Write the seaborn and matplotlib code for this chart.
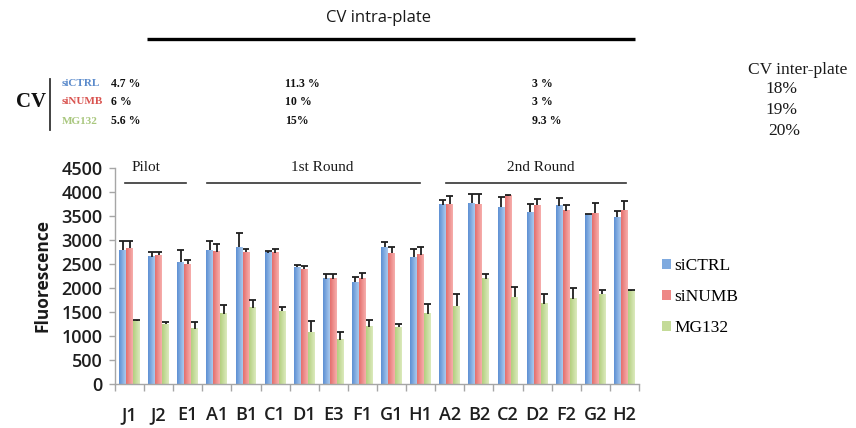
import numpy as np
import pandas as pd
import matplotlib
matplotlib.use("Agg")
import matplotlib.pyplot as plt
from matplotlib.lines import Line2D
from matplotlib.patches import Patch
from matplotlib.colors import LinearSegmentedColormap
import seaborn as sns

# ---- data -------------------------------------------------------------
wells = ["J1", "J2", "E1", "A1", "B1", "C1", "D1", "E3", "F1", "G1",
         "H1", "A2", "B2", "C2", "D2", "F2", "G2", "H2"]
conditions = ["siCTRL", "siNUMB", "MG132"]

sictrl = [2790, 2650, 2535, 2790, 2845, 2730, 2430, 2190, 2120, 2845,
          2640, 3735, 3770, 3685, 3575, 3715, 3540, 3470]
sictrl_err = [195, 110, 255, 180, 295, 45, 55, 100, 115, 105,
              170, 95, 185, 205, 175, 165, 10, 125]
sinumb = [2833, 2680, 2500, 2755, 2740, 2730, 2395, 2190, 2190, 2720,
          2690, 3750, 3745, 3920, 3725, 3610, 3555, 3625]
sinumb_err = [137, 80, 85, 160, 70, 80, 55, 100, 120, 140,
              155, 170, 205, 25, 125, 125, 225, 195]
mg132 = [1320, 1250, 1150, 1460, 1585, 1515, 1080, 925, 1195, 1180,
         1460, 1620, 2190, 1805, 1670, 1775, 1875, 1945]
mg132_err = [15, 40, 140, 185, 165, 85, 225, 155, 145, 70,
             210, 255, 100, 225, 205, 235, 85, 10]

rounds = ["Pilot", "1st Round", "2nd Round"]

# intra-plate CV per round (rows: conditions)
cv_intra = [["4.7 %", "11.3 %", "3 %"],
            ["6 %", "10 %", "3 %"],
            ["5.6 %", "15%", "9.3 %"]]
cv_inter = ["18%", "19%", "20%"]

yticks = [0, 500, 1000, 1500, 2000, 2500, 3000, 3500, 4000, 4500]

# ---- styling ----------------------------------------------------------
mid_colors = ["#7FAADF", "#EE8886", "#C4DB98"]
grad_colors = [("#5C8FD3", "#ABCAEE"), ("#E46E6C", "#F7B0AE"), ("#B3CE7E", "#DCEBBE")]
label_colors = ["#5A8ACB", "#D9534F", "#A9C77E"]
serif = ["Liberation Serif", "DejaVu Serif"]
sans = ["Open Sans", "DejaVu Sans"]

W, H = 856, 428
fig = plt.figure(figsize=(W / 100, H / 100), dpi=100)
fig.patch.set_facecolor("white")

ax_l, ax_r, ax_t, ax_b = 115, 639, 168, 384
ax = fig.add_axes([ax_l / W, 1 - ax_b / H, (ax_r - ax_l) / W, (ax_b - ax_t) / H])

df = pd.DataFrame({
    "well": wells * 3,
    "cond": sum([[c] * len(wells) for c in conditions], []),
    "fluor": sictrl + sinumb + mg132,
    "err": sictrl_err + sinumb_err + mg132_err,
})

sns.barplot(data=df, x="well", y="fluor", hue="cond", order=wells,
            hue_order=conditions, palette=mid_colors, width=0.72,
            errorbar=None, legend=False, ax=ax, linewidth=0, zorder=2)

# horizontal gradient fill on every bar, plus upper-only error bars
cap_half = 0.12
bar_containers = list(ax.containers)
for container, (c0, c1), cond in zip(bar_containers, grad_colors, conditions):
    cmap = LinearSegmentedColormap.from_list(cond, [c0, c1])
    errs = df.loc[df["cond"] == cond, "err"].to_numpy()
    xs, hs = [], []
    for bar in container:
        x0, w, h = bar.get_x(), bar.get_width(), bar.get_height()
        ax.imshow(np.linspace(0, 1, 64)[None, :], cmap=cmap,
                  extent=[x0, x0 + w, 0, h], aspect="auto",
                  interpolation="bicubic", zorder=2)
        bar.set_facecolor("none")
        xs.append(x0 + w / 2)
        hs.append(h)
    xs, hs = np.array(xs), np.array(hs)
    tops = hs + errs
    ax.vlines(xs, hs, tops, color="#1f1f1f", lw=1.3, zorder=3)
    ax.hlines(tops, xs - cap_half, xs + cap_half, color="#1f1f1f",
              lw=1.3, zorder=3)

ax.set_xlim(-0.5, len(wells) - 0.5)
ax.set_ylim(0, 4500)
ax.set_aspect("auto")
ax.set_yticks(yticks)
ax.set_xticks(range(len(wells)))
ax.set_xticklabels(wells)
ax.set_xticks(np.arange(-0.5, len(wells), 1), minor=True)
ax.set_xlabel("")
ax.set_ylabel("Fluorescence", fontsize=12.5, fontweight="bold",
              family=sans, color="#1a1a1a", labelpad=7)
for side in ("top", "right"):
    ax.spines[side].set_visible(False)
for side in ("left", "bottom"):
    ax.spines[side].set_color("#A6A6A6")
    ax.spines[side].set_linewidth(1.0)
ax.tick_params(axis="y", length=4, width=1, color="#A6A6A6", pad=5,
               labelsize=13, labelcolor="#1e1e1e")
ax.tick_params(axis="x", which="major", length=0, pad=16,
               labelsize=13, labelcolor="#1e1e1e")
ax.tick_params(axis="x", which="minor", length=5, width=1, color="#A6A6A6")
for lab in ax.get_xticklabels() + ax.get_yticklabels():
    lab.set_family(sans)
    lab.set_fontweight("semibold")
ax.set_facecolor("white")

# round annotations above the bars
round_lines = [(-0.15, 1.94), (2.66, 9.98), (10.87, 17.05)]
round_text_x = [0.56, 6.61, 14.13]
for name, (x0, x1), tx in zip(rounds, round_lines, round_text_x):
    ax.plot([x0, x1], [4190, 4190], color="#333333", lw=1.2,
            clip_on=False, zorder=4)
    ax.text(tx, 4520, name, ha="center", va="center", fontsize=11,
            family=serif, color="#1a1a1a", clip_on=False)

# legend
handles = [Patch(facecolor=c, edgecolor="none") for c in mid_colors]
fig.legend(handles, conditions, loc="center left",
           bbox_to_anchor=(662 / W, 1 - 297 / H), frameon=False,
           prop={"family": serif, "size": 12.5}, handlelength=0.5,
           handleheight=0.5, handletextpad=0.2, labelspacing=0.85,
           borderpad=0, borderaxespad=0)


def fx(px):
    return px / W


def fy(py):
    return 1 - py / H


# header: intra-plate CV
fig.text(fx(379), fy(18), "CV intra-plate", ha="center", va="center",
         fontsize=12, family=sans, color="#1a1a1a")
fig.add_artist(Line2D([fx(147), fx(635)], [fy(39), fy(39)], color="black",
                      lw=2.4, solid_capstyle="butt"))

fig.text(fx(31), fy(102), "CV", ha="center", va="center", fontsize=15,
         fontweight="bold", family=serif, color="#111111")
fig.add_artist(Line2D([fx(50), fx(50)], [fy(79), fy(130)], color="#333333",
                      lw=1.3))
row_y = [84, 102, 121]
col_x = [111, 285, 532]
for i, cond in enumerate(conditions):
    fig.text(fx(62), fy(row_y[i]), cond, ha="left", va="center",
             fontsize=8, fontweight="bold", family=serif,
             color=label_colors[i])
    for j, val in enumerate(cv_intra[i]):
        fig.text(fx(col_x[j]), fy(row_y[i]), val, ha="left", va="center",
                 fontsize=8.5, fontweight="bold", family=serif,
                 color="#111111")

# inter-plate CV
fig.text(fx(748), fy(70), "CV inter-plate", ha="left", va="center",
         fontsize=12.5, family=serif, color="#1a1a1a")
inter_x = [765, 765, 768]
inter_y = [89, 110, 131]
for val, x, y in zip(cv_inter, inter_x, inter_y):
    fig.text(fx(x), fy(y), val, ha="left", va="center", fontsize=12.5,
             family=serif, color="#1a1a1a")

fig.savefig("out.png", dpi=100, facecolor="white")
